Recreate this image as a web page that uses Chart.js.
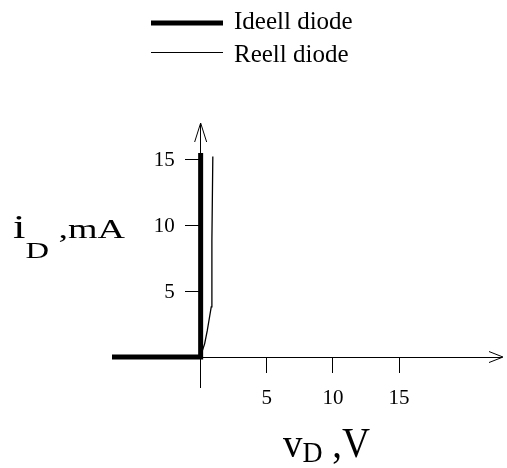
<!DOCTYPE html>
<html>
<head>
<meta charset="utf-8">
<script src="https://cdn.jsdelivr.net/npm/chart.js@4.4.1/dist/chart.umd.min.js"></script>
<style>
  html, body { margin: 0; padding: 0; background: #fff; }
</style>
</head>
<body>
<canvas id="diodeChart" width="507" height="468"></canvas>
<script>
// Data (v in V, i in mA)
const idealV = [-6.7, 0, 0];
const idealI = [0, 0, 15.45];
const reelV = [0, 0.1, 0.3, 0.5, 0.65, 0.8, 0.85, 0.92];
const reelI = [0, 0.4, 1.0, 2.0, 2.9, 3.8, 8.8, 15.2];
const xTicks = [5, 10, 15];
const yTicks = [5, 10, 15];
const seriesNames = ['Ideell diode', 'Reell diode'];
const xTitle = ['v', 'D', ' ,V'];
const yTitle = ['i', 'D', ' ,mA'];

const SERIF = '"Liberation Serif", "DejaVu Serif", serif';

function toPoints(xs, ys) {
    return xs.map((v, k) => ({ x: v, y: ys[k] }));
}

// titles with a subscript: [main, sub, rest]
function drawTitle(ctx, parts, x, base, sizes, subDrop, targetWidth) {
    ctx.save();
    const widths = parts.map((p, k) => {
        ctx.font = sizes[k] + 'px ' + SERIF;
        return ctx.measureText(p).width;
    });
    const s = targetWidth / (widths[0] + widths[1] + widths[2]);
    ctx.translate(x, base);
    ctx.scale(s, 1);
    ctx.fillStyle = '#000';
    ctx.textBaseline = 'alphabetic';
    ctx.textAlign = 'left';
    let px = 0;
    parts.forEach((p, k) => {
        ctx.font = sizes[k] + 'px ' + SERIF;
        ctx.fillText(p, px, k === 1 ? subDrop : 0);
        px += widths[k];
    });
    ctx.restore();
}

const extras = {
    id: 'extras',
    afterDraw(chart) {
        const ctx = chart.ctx;
        const xs = chart.scales.x, ys = chart.scales.y;
        const x0 = xs.getPixelForValue(0);
        const y0 = ys.getPixelForValue(0);
        const area = chart.chartArea;

        ctx.save();
        ctx.strokeStyle = '#000';
        ctx.lineWidth = 1;
        // arrow heads
        ctx.beginPath();
        ctx.moveTo(area.right - 12, y0 - 5.5);
        ctx.lineTo(area.right + 2, y0);
        ctx.lineTo(area.right - 12, y0 + 5.5);
        ctx.moveTo(x0 - 6, area.top + 19);
        ctx.lineTo(x0, area.top);
        ctx.lineTo(x0 + 6, area.top + 19);
        ctx.stroke();

        // y tick labels, left of the tick marks
        ctx.fillStyle = '#000';
        ctx.font = '21px ' + SERIF;
        ctx.textAlign = 'right';
        ctx.textBaseline = 'middle';
        yTicks.forEach(v => ctx.fillText(String(v), x0 - 26, ys.getPixelForValue(v) + 1));

        // legend, stacked
        const rows = [23, 52.5];
        const bases = [29, 62];
        ctx.textAlign = 'left';
        ctx.textBaseline = 'alphabetic';
        ctx.font = '25px ' + SERIF;
        chart.data.datasets.forEach((ds, k) => {
            ctx.beginPath();
            ctx.lineWidth = ds.borderWidth >= 2 ? ds.borderWidth : 1;
            ctx.moveTo(151, rows[k]);
            ctx.lineTo(223, rows[k]);
            ctx.stroke();
            ctx.fillText(ds.label, 234, bases[k]);
        });
        ctx.restore();

        drawTitle(ctx, yTitle, 13, 238, [33, 24, 28], 20, 112);
        drawTitle(ctx, xTitle, 283, 457, [42, 30, 42], 5, 87);
    }
};

const ctx = document.getElementById('diodeChart').getContext('2d');
const diodeChart = new Chart(ctx, {
    type: 'scatter',
    data: {
        datasets: [{
            label: seriesNames[0],
            data: toPoints(idealV, idealI),
            showLine: true,
            borderColor: '#000',
            backgroundColor: '#000',
            borderWidth: 5,
            borderJoinStyle: 'miter',
            pointRadius: 0,
            tension: 0
        }, {
            label: seriesNames[1],
            data: toPoints(reelV, reelI),
            showLine: true,
            borderColor: '#000',
            backgroundColor: '#000',
            borderWidth: 1.3,
            pointRadius: 0,
            tension: 0
        }]
    },
    options: {
        responsive: false,
        animation: false,
        devicePixelRatio: 1,
        layout: { padding: { left: 112, right: 6, top: 123, bottom: 81 } },
        plugins: {
            legend: { display: false },
            tooltip: { enabled: false }
        },
        scales: {
            x: {
                type: 'linear',
                min: -6.7,
                max: 22.7,
                position: { y: 0 },
                afterBuildTicks: s => { s.ticks = xTicks.map(v => ({ value: v })); },
                grid: { drawOnChartArea: false, drawTicks: true, tickLength: 15, color: '#000', lineWidth: 1 },
                border: { display: true, color: '#000', width: 1 },
                ticks: { color: '#000', font: { family: SERIF, size: 21 }, padding: 14, maxRotation: 0, autoSkip: false }
            },
            y: {
                type: 'linear',
                min: -2.27,
                max: 17.73,
                position: { x: 0 },
                afterBuildTicks: s => { s.ticks = yTicks.map(v => ({ value: v })); },
                grid: { drawOnChartArea: false, drawTicks: true, tickLength: 15, color: '#000', lineWidth: 1 },
                border: { display: true, color: '#000', width: 1 },
                ticks: { display: false }
            }
        }
    },
    plugins: [extras]
});
</script>
</body>
</html>
